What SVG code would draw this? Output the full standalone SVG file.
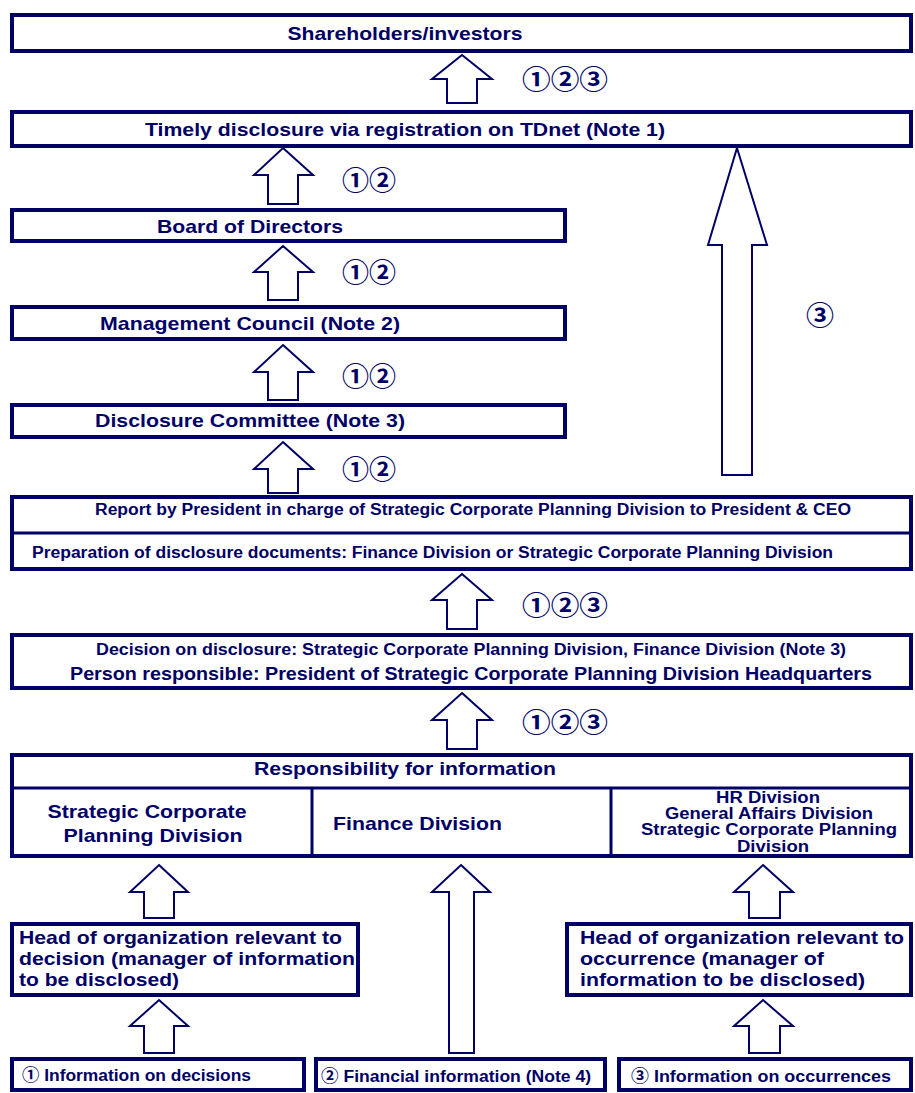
<svg xmlns="http://www.w3.org/2000/svg" width="915" height="1093" viewBox="0 0 915 1093">
<style>
.box{fill:#fff;stroke:#000066;stroke-width:4}
.div{stroke:#000066;stroke-width:3;fill:none}
.arr{fill:#fff;stroke:#000066;stroke-width:2;stroke-linejoin:miter}
text{font-family:"Liberation Sans",Arial,"Noto Sans CJK JP",sans-serif;font-weight:bold;fill:#000066}
.t19{font-size:19px}
.t16{font-size:16px}
.t17{font-size:17px}
.c{text-anchor:middle}
.num{font-family:"Noto Sans CJK JP","DejaVu Sans",sans-serif;font-weight:bold;font-size:26px}
</style>
<rect width="915" height="1093" fill="#fff"/>
<g id="connectors">
<path class="arr" d="M462,55 L492,79 L477,79 L477,103 L447,103 L447,79 L432,79 Z"/>
<path class="arr" d="M283,148 L313,175 L298,175 L298,204 L268,204 L268,175 L254,175 Z"/>
<path class="arr" d="M283,246 L313,272 L298,272 L298,300 L268,300 L268,272 L254,272 Z"/>
<path class="arr" d="M283,345 L313,372 L298,372 L298,400 L268,400 L268,372 L254,372 Z"/>
<path class="arr" d="M283,442 L313,469 L298,469 L298,493 L268,493 L268,469 L254,469 Z"/>
<path class="arr" d="M462,574 L492,600 L477,600 L477,629 L447,629 L447,600 L432,600 Z"/>
<path class="arr" d="M462,693 L492,720 L477,720 L477,749 L447,749 L447,720 L432,720 Z"/>
<path class="arr" d="M737,148 L767,245 L752,245 L752,475 L722,475 L722,245 L708,245 Z"/>
<path class="arr" d="M159,865 L188,892 L174,892 L174,918 L144,918 L144,892 L130,892 Z"/>
<path class="arr" d="M159,1000 L188,1026 L174,1026 L174,1053 L144,1053 L144,1026 L130,1026 Z"/>
<path class="arr" d="M461,865 L490,892 L474,892 L474,1053 L449,1053 L449,892 L432,892 Z"/>
<path class="arr" d="M763,865 L793,892 L780,892 L780,918 L749,918 L749,892 L734,892 Z"/>
<path class="arr" d="M763,1000 L793,1026 L780,1026 L780,1053 L749,1053 L749,1026 L734,1026 Z"/>
<text class="num" x="522" y="89" textLength="86" lengthAdjust="spacingAndGlyphs">①②③</text>
<text class="num" x="342" y="190" textLength="54" lengthAdjust="spacingAndGlyphs">①②</text>
<text class="num" x="342" y="282" textLength="54" lengthAdjust="spacingAndGlyphs">①②</text>
<text class="num" x="342" y="386" textLength="54" lengthAdjust="spacingAndGlyphs">①②</text>
<text class="num" x="342" y="479" textLength="54" lengthAdjust="spacingAndGlyphs">①②</text>
<text class="num" x="522" y="615" textLength="86" lengthAdjust="spacingAndGlyphs">①②③</text>
<text class="num" x="522" y="732" textLength="86" lengthAdjust="spacingAndGlyphs">①②③</text>
<text class="num" x="806" y="325" textLength="28" lengthAdjust="spacingAndGlyphs">③</text>
</g>
<g id="shareholders">
<rect class="box" x="12" y="15" width="899" height="36"/>
<text class="t19 c" x="405" y="40" textLength="235" lengthAdjust="spacingAndGlyphs">Shareholders/investors</text>
</g>
<g id="tdnet">
<rect class="box" x="12" y="112" width="899" height="34"/>
<text class="t19 c" x="405" y="136" textLength="520" lengthAdjust="spacingAndGlyphs">Timely disclosure via registration on TDnet (Note 1)</text>
</g>
<g id="board">
<rect class="box" x="12" y="210" width="553" height="31"/>
<text class="t19 c" x="250" y="233" textLength="186" lengthAdjust="spacingAndGlyphs">Board of Directors</text>
</g>
<g id="management">
<rect class="box" x="12" y="307" width="553" height="32"/>
<text class="t19 c" x="250" y="330" textLength="300" lengthAdjust="spacingAndGlyphs">Management Council (Note 2)</text>
</g>
<g id="committee">
<rect class="box" x="12" y="405" width="553" height="32"/>
<text class="t19 c" x="250" y="427" textLength="310" lengthAdjust="spacingAndGlyphs">Disclosure Committee (Note 3)</text>
</g>
<g id="report">
<rect class="box" x="12" y="497" width="899" height="72"/>
<line class="div" x1="12" y1="533" x2="911" y2="533"/>
<text class="t16 c" x="473" y="515" textLength="756" lengthAdjust="spacingAndGlyphs">Report by President in charge of Strategic Corporate Planning Division to President &amp; CEO</text>
<text class="t16" x="32" y="558" textLength="801" lengthAdjust="spacingAndGlyphs">Preparation of disclosure documents: Finance Division or Strategic Corporate Planning Division</text>
</g>
<g id="decision">
<rect class="box" x="12" y="635" width="899" height="53"/>
<text class="t16" x="96" y="655" textLength="750" lengthAdjust="spacingAndGlyphs">Decision on disclosure: Strategic Corporate Planning Division, Finance Division (Note 3)</text>
<text class="t19" x="70" y="680" textLength="802" lengthAdjust="spacingAndGlyphs">Person responsible: President of Strategic Corporate Planning Division Headquarters</text>
</g>
<g id="responsibility">
<rect class="box" x="12" y="755" width="899" height="101"/>
<line class="div" x1="12" y1="788" x2="911" y2="788"/>
<line class="div" x1="312" y1="788" x2="312" y2="856"/>
<line class="div" x1="611" y1="788" x2="611" y2="856"/>
<text class="t19 c" x="405" y="775" textLength="302" lengthAdjust="spacingAndGlyphs">Responsibility for information</text>
<text class="t19 c" x="147" y="818" textLength="199" lengthAdjust="spacingAndGlyphs">Strategic Corporate</text>
<text class="t19 c" x="153" y="842" textLength="179" lengthAdjust="spacingAndGlyphs">Planning Division</text>
<text class="t19" x="333" y="830" textLength="169" lengthAdjust="spacingAndGlyphs">Finance Division</text>
<text class="t16 c" x="768" y="803" textLength="104" lengthAdjust="spacingAndGlyphs">HR Division</text>
<text class="t16 c" x="769" y="819" textLength="208" lengthAdjust="spacingAndGlyphs">General Affairs Division</text>
<text class="t16 c" x="769" y="835" textLength="256" lengthAdjust="spacingAndGlyphs">Strategic Corporate Planning</text>
<text class="t16 c" x="773" y="852" textLength="72" lengthAdjust="spacingAndGlyphs">Division</text>
</g>
<g id="head-decision">
<rect class="box" x="12" y="924" width="346" height="71"/>
<text class="t19" x="19" y="944" textLength="323" lengthAdjust="spacingAndGlyphs">Head of organization relevant to</text>
<text class="t19" x="19" y="965" textLength="336" lengthAdjust="spacingAndGlyphs">decision (manager of information</text>
<text class="t19" x="19" y="986" textLength="160" lengthAdjust="spacingAndGlyphs">to be disclosed)</text>
</g>
<g id="head-occurrence">
<rect class="box" x="567" y="924" width="344" height="71"/>
<text class="t19" x="580" y="944" textLength="324" lengthAdjust="spacingAndGlyphs">Head of organization relevant to</text>
<text class="t19" x="580" y="965" textLength="244" lengthAdjust="spacingAndGlyphs">occurrence (manager of</text>
<text class="t19" x="580" y="986" textLength="285" lengthAdjust="spacingAndGlyphs">information to be disclosed)</text>
</g>
<g id="info-decisions">
<rect class="box" x="12" y="1059" width="292" height="31"/>
<text class="t17" x="22" y="1081" textLength="229" lengthAdjust="spacingAndGlyphs">① Information on decisions</text>
</g>
<g id="info-financial">
<rect class="box" x="316" y="1059" width="289" height="31"/>
<text class="t17" x="321" y="1082" textLength="270" lengthAdjust="spacingAndGlyphs">② Financial information (Note 4)</text>
</g>
<g id="info-occurrences">
<rect class="box" x="619" y="1059" width="292" height="31"/>
<text class="t17" x="631" y="1082" textLength="260" lengthAdjust="spacingAndGlyphs">③ Information on occurrences</text>
</g>
</svg>
